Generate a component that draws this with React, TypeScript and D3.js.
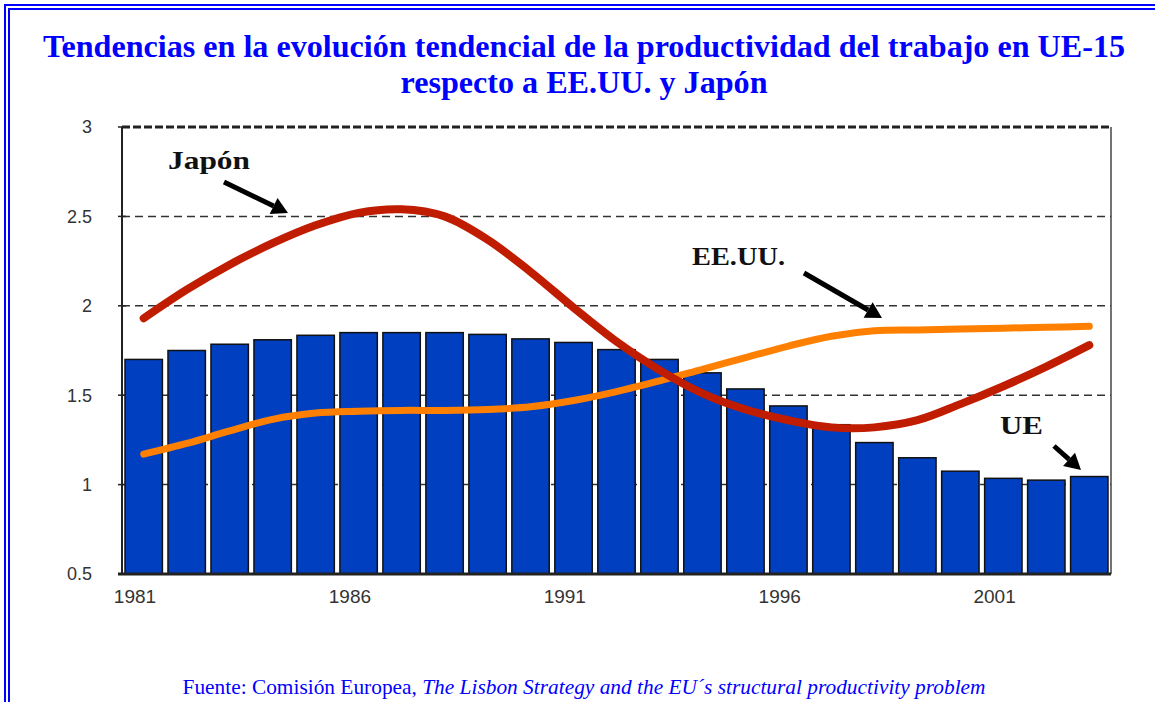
import * as d3 from 'd3'

const years = [
  1981, 1982, 1983, 1984, 1985, 1986, 1987, 1988, 1989, 1990, 1991, 1992,
  1993, 1994, 1995, 1996, 1997, 1998, 1999, 2000, 2001, 2002, 2003,
]
// UE-15 (bars)
const ueValues = [
  1.7, 1.75, 1.785, 1.81, 1.835, 1.85, 1.85, 1.85, 1.84, 1.815, 1.795, 1.755,
  1.7, 1.625, 1.535, 1.44, 1.335, 1.235, 1.15, 1.075, 1.035, 1.025, 1.045,
]
// Japón trend
const japanValues = [
  1.93, 2.09, 2.23, 2.35, 2.45, 2.52, 2.54, 2.5, 2.37, 2.19, 1.99, 1.8,
  1.64, 1.51, 1.42, 1.36, 1.32, 1.32, 1.36, 1.45, 1.55, 1.66, 1.78,
]
// EE.UU. trend
const usValues = [
  1.17, 1.23, 1.3, 1.365, 1.4, 1.41, 1.415, 1.415, 1.42, 1.435, 1.47, 1.52,
  1.58, 1.645, 1.71, 1.775, 1.83, 1.86, 1.865, 1.87, 1.875, 1.88, 1.885,
]
const yTicks = [0.5, 1, 1.5, 2, 2.5, 3]
const xTickYears = [1981, 1986, 1991, 1996, 2001]
const gridValues = [1, 1.5, 2, 2.5]

const W = 1155
const H = 702
const plot = { left: 122, right: 1111, top: 127, bottom: 574 }
const SERIF = "'Liberation Serif', 'Times New Roman', serif"
const SANS = "'Liberation Sans', Arial, sans-serif"

export default function App() {
  const x = d3
    .scaleBand<number>()
    .domain(years)
    .range([plot.left, plot.right])
    .paddingInner(0.13)
    .paddingOuter(0.07)
  const y = d3.scaleLinear().domain([0.5, 3]).range([plot.bottom, plot.top])
  const cx = (yr: number) => (x(yr) || 0) + x.bandwidth() / 2

  const line = d3
    .line<number>()
    .x((_, i) => cx(years[i]))
    .y((d) => y(d))
    .curve(d3.curveCatmullRom)

  const arrow = (x1: number, y1: number, x2: number, y2: number) => {
    const a = Math.atan2(y2 - y1, x2 - x1)
    const len = 16
    const hw = 9
    const bx = x2 - len * Math.cos(a)
    const by = y2 - len * Math.sin(a)
    const px = -Math.sin(a)
    const py = Math.cos(a)
    return (
      <g>
        <line x1={x1} y1={y1} x2={bx} y2={by} stroke="#000" strokeWidth={5} />
        <polygon
          points={`${x2},${y2} ${bx + px * hw},${by + py * hw} ${bx - px * hw},${by - py * hw}`}
          fill="#000"
        />
      </g>
    )
  }

  return (
    <svg
      width={W}
      height={H}
      style={{ position: 'absolute', left: 0, top: 0, background: '#fff', fontFamily: SERIF }}
    >
      {/* double blue frame */}
      <rect x={5} y={5} width={W + 20} height={H + 20} fill="none" stroke="#0000ff" strokeWidth={2} />
      <rect x={9} y={9} width={W + 20} height={H + 20} fill="none" stroke="#0000ff" strokeWidth={2} />

      <text x={584} y={57} textAnchor="middle" fontSize={32} fontWeight="bold" fill="#0000ff"
        textLength={1082} lengthAdjust="spacingAndGlyphs" style={{ fontFamily: SERIF }}>
        Tendencias en la evolución tendencial de la productividad del trabajo en UE-15
      </text>
      <text x={584} y={93} textAnchor="middle" fontSize={32} fontWeight="bold" fill="#0000ff"
        textLength={367} lengthAdjust="spacingAndGlyphs" style={{ fontFamily: SERIF }}>
        respecto a EE.UU. y Japón
      </text>

      {/* gridlines */}
      {gridValues.map((v) => (
        <line key={v} x1={plot.left} x2={plot.right} y1={y(v)} y2={y(v)}
          stroke="#333" strokeWidth={1.5} strokeDasharray="8,5" />
      ))}
      <line x1={plot.left} x2={plot.right} y1={plot.top} y2={plot.top}
        stroke="#222" strokeWidth={3} strokeDasharray="8,3" />

      {/* bars */}
      {years.map((yr, i) => (
        <rect key={yr} x={x(yr)} y={y(ueValues[i])} width={x.bandwidth()}
          height={plot.bottom - y(ueValues[i])} fill="#0040c0" stroke="#111" strokeWidth={1.5} />
      ))}

      {/* axes frame */}
      <line x1={plot.left} x2={plot.left} y1={plot.top} y2={plot.bottom} stroke="#222" strokeWidth={2} />
      <line x1={plot.right} x2={plot.right} y1={plot.top} y2={plot.bottom} stroke="#444" strokeWidth={1.5} />
      <line x1={plot.left - 4} x2={plot.right} y1={plot.bottom} y2={plot.bottom} stroke="#222" strokeWidth={3} />
      {yTicks.map((t) => (
        <g key={t}>
          <line x1={plot.left - 4} x2={plot.left + 4} y1={y(t)} y2={y(t)} stroke="#222" strokeWidth={1.5} />
          <text x={92} y={y(t)} dy="0.35em" textAnchor="end" fontSize={18}
            style={{ fontFamily: SANS }} fill="#333">
            {t}
          </text>
        </g>
      ))}
      {xTickYears.map((yr) => (
        <text key={yr} x={(x(yr) || 0) + 10} y={603} textAnchor="middle" fontSize={19}
          style={{ fontFamily: SANS }} fill="#333">
          {yr}
        </text>
      ))}

      {/* trend lines */}
      <path d={line(usValues) || ''} fill="none" stroke="#ff8000" strokeWidth={7} strokeLinecap="round" />
      <path d={line(japanValues) || ''} fill="none" stroke="#c01c00" strokeWidth={8} strokeLinecap="round" />

      {/* annotations */}
      <text x={168} y={169} fontSize={26} fontWeight="bold" fill="#111"
        textLength={82} lengthAdjust="spacingAndGlyphs" style={{ fontFamily: SERIF }}>Japón</text>
      {arrow(224, 182, 288, 213)}
      <text x={692} y={265} fontSize={26} fontWeight="bold" fill="#111"
        textLength={93} lengthAdjust="spacingAndGlyphs" style={{ fontFamily: SERIF }}>EE.UU.</text>
      {arrow(804, 273, 882, 318)}
      <text x={1000} y={434} fontSize={26} fontWeight="bold" fill="#111"
        textLength={43} lengthAdjust="spacingAndGlyphs" style={{ fontFamily: SERIF }}>UE</text>
      {arrow(1054, 446, 1081, 470)}

      <text x={584} y={694} textAnchor="middle" fontSize={22} fill="#0000ff"
        textLength={803} lengthAdjust="spacingAndGlyphs" style={{ fontFamily: SERIF }}>
        Fuente: Comisión Europea,{' '}
        <tspan fontStyle="italic">The Lisbon Strategy and the EU´s structural productivity problem</tspan>
      </text>
    </svg>
  )
}
